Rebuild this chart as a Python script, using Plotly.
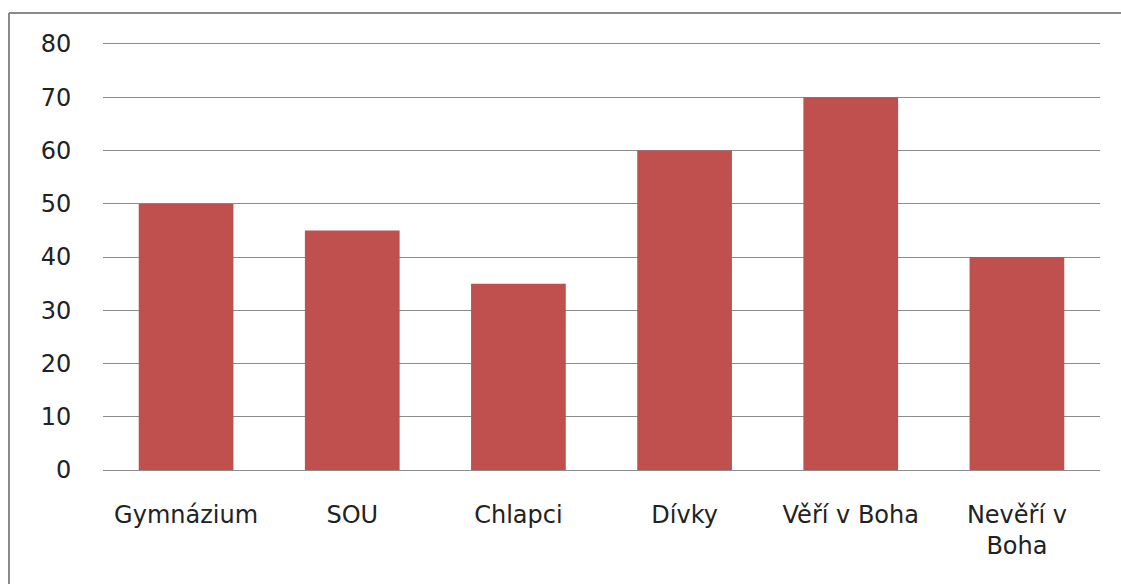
import plotly.graph_objects as go

categories = ["Gymnázium", "SOU", "Chlapci", "Dívky", "Věří v Boha", "Nevěří v<br>Boha"]
values = [50, 45, 35, 60, 70, 40]
y_ticks = [0, 10, 20, 30, 40, 50, 60, 70, 80]

W, H = 1121, 584
L, R, T, B = 103, 21, 44, 114
pw, ph = W - L - R, H - T - B

fig = go.Figure(go.Bar(x=categories, y=values, marker_color="#C0504D",
                       marker_line_width=0, width=0.57))

font = dict(family="DejaVu Sans, sans-serif", size=24, color="#222222")

bx = (9 - L) / pw
by = (H - B - 13) / ph
fig.add_shape(type="line", xref="paper", yref="paper", x0=bx, x1=bx, y0=-0.5, y1=by,
              line=dict(color="#8a8a8a", width=2))
fig.add_shape(type="line", xref="paper", yref="paper", x0=bx, x1=1.1, y0=by, y1=by,
              line=dict(color="#8a8a8a", width=2))

fig.update_layout(
    width=W, height=H,
    margin=dict(l=L, r=R, t=T, b=B),
    paper_bgcolor="white", plot_bgcolor="white",
    showlegend=False,
    font=font,
    bargap=0.43,
    xaxis=dict(showgrid=False, showline=True, mirror=True, linecolor="#8c8c8c", linewidth=1,
               ticks="outside", ticklen=23, tickcolor="rgba(0,0,0,0)", tickfont=font),
    yaxis=dict(range=[0, 80], tickvals=y_ticks, showgrid=True, gridcolor="#8c8c8c",
               gridwidth=1, zeroline=True, zerolinecolor="#8c8c8c", zerolinewidth=1,
               ticks="outside", ticklen=26, tickcolor="rgba(0,0,0,0)", tickfont=font),
)

fig.write_html("out.html", config={"displayModeBar": False},
               post_script="document.body.style.margin='0';")
